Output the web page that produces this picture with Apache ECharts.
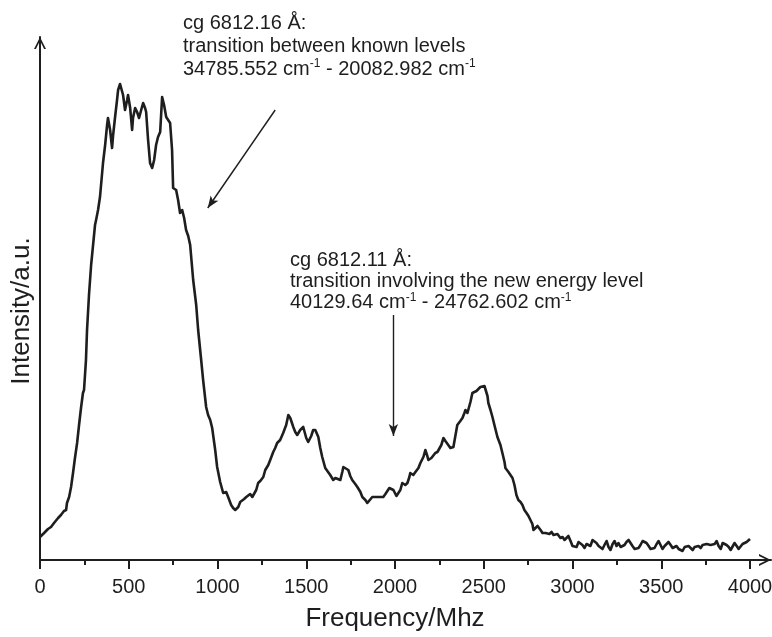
<!DOCTYPE html>
<html>
<head>
<meta charset="utf-8">
<title>Hyperfine spectrum</title>
<script src="https://cdn.jsdelivr.net/npm/echarts@6/dist/echarts.min.js"></script>
<style>
  html, body { margin: 0; padding: 0; background: #fff; }
  #chart { width: 772px; height: 637px; }
</style>
</head>
<body>
<div id="chart"></div>
<script>
// Measured spectrum: frequency offset (MHz) and intensity (arbitrary units)
const freqMHz = [
  0, 23, 45, 62, 79, 102, 118, 135, 147, 152, 164, 175, 186, 197, 209, 220, 231, 242, 248, 259,
  265, 276, 288, 299, 310, 316, 327, 338, 344, 355, 367, 378, 383, 395, 406, 412, 423, 434, 440, 451,
  457, 468, 479, 491, 496, 508, 519, 524, 536, 547, 558, 570, 581, 592, 598, 609, 620, 632, 643, 654,
  665, 677, 688, 699, 711, 722, 733, 744, 750, 767, 778, 789, 801, 812, 823, 835, 846, 863, 880, 891,
  908, 919, 936, 947, 959, 970, 987, 998, 1015, 1032, 1049, 1060, 1077, 1088, 1100, 1117, 1128, 1139, 1150, 1162,
  1173, 1184, 1196, 1207, 1218, 1229, 1241, 1258, 1269, 1286, 1297, 1314, 1325, 1336, 1353, 1370, 1387, 1399, 1410, 1415,
  1427, 1438, 1449, 1466, 1483, 1500, 1511, 1528, 1539, 1551, 1568, 1579, 1590, 1607, 1618, 1635, 1652, 1664, 1675, 1692,
  1703, 1709, 1720, 1737, 1748, 1759, 1776, 1788, 1805, 1816, 1833, 1844, 1855, 1872, 1889, 1900, 1917, 1934, 1946, 1957,
  1968, 1979, 1991, 1996, 2008, 2019, 2030, 2041, 2058, 2070, 2081, 2086, 2103, 2115, 2132, 2143, 2160, 2171, 2182, 2188,
  2205, 2216, 2227, 2239, 2244, 2261, 2273, 2284, 2295, 2312, 2329, 2340, 2351, 2368, 2380, 2391, 2397, 2408, 2413, 2425,
  2436, 2447, 2459, 2470, 2481, 2492, 2504, 2509, 2521, 2526, 2538, 2549, 2560, 2577, 2594, 2605, 2617, 2622, 2639, 2650,
  2662, 2673, 2684, 2695, 2707, 2718, 2729, 2741, 2752, 2763, 2774, 2780, 2791, 2803, 2808, 2820, 2831, 2836, 2848, 2859,
  2870, 2882, 2893, 2904, 2915, 2932, 2944, 2955, 2966, 2977, 2989, 3000, 3011, 3023, 3034, 3045, 3056, 3068, 3079, 3090,
  3101, 3113, 3124, 3135, 3147, 3158, 3169, 3180, 3192, 3203, 3214, 3226, 3237, 3248, 3259, 3271, 3282, 3293, 3304, 3316,
  3327, 3338, 3350, 3361, 3372, 3383, 3395, 3406, 3417, 3429, 3440, 3451, 3462, 3474, 3485, 3496, 3507, 3519, 3530, 3541,
  3553, 3564, 3575, 3586, 3598, 3609, 3620, 3632, 3643, 3654, 3665, 3677, 3688, 3699, 3710, 3722, 3733, 3744, 3756, 3767,
  3778, 3789, 3801, 3812, 3823, 3835, 3846, 3857, 3868, 3880, 3891, 3902, 3913, 3925, 3936, 3947, 3958, 3969, 3981, 3992,
  4000
];
const intensity = [
  23, 27, 31, 33, 37, 42, 45, 49, 50, 57, 63, 73, 87, 102, 117, 135, 152, 167, 170, 200,
  230, 265, 295, 315, 335, 340, 350, 363, 375, 397, 415, 435, 442, 430, 412, 425, 443, 460, 470, 476,
  477, 465, 450, 460, 465, 452, 430, 442, 452, 448, 442, 450, 457, 452, 448, 420, 397, 392, 400, 415,
  423, 428, 463, 455, 443, 440, 437, 410, 372, 370, 360, 347, 350, 342, 330, 324, 315, 280, 255, 230,
  200, 180, 153, 145, 140, 132, 110, 93, 78, 67, 68, 63, 55, 52, 50, 53, 58, 57, 61, 63,
  63, 66, 63, 64, 70, 77, 79, 83, 90, 95, 100, 108, 112, 117, 120, 127, 135, 145, 142, 140,
  133, 128, 125, 130, 133, 122, 118, 124, 130, 130, 123, 112, 103, 92, 90, 85, 80, 82, 83, 80,
  88, 93, 92, 90, 84, 80, 76, 73, 68, 63, 60, 57, 59, 63, 63, 64, 63, 63, 66, 68,
  72, 73, 70, 68, 64, 63, 70, 77, 75, 77, 83, 87, 85, 88, 92, 97, 103, 110, 104, 100,
  102, 103, 107, 108, 110, 115, 122, 119, 117, 112, 113, 124, 135, 139, 142, 147, 150, 147, 145, 158,
  167, 167, 169, 170, 173, 175, 174, 172, 164, 157, 150, 143, 135, 123, 115, 107, 98, 92, 88, 87,
  82, 75, 65, 60, 58, 55, 50, 47, 44, 42, 36, 30, 30, 34, 35, 30, 27, 25, 27, 28,
  26, 28, 25, 24, 26, 22, 23, 20, 22, 24, 19, 14, 16, 13, 18, 19, 15, 12, 16, 18,
  14, 20, 22, 17, 14, 16, 11, 15, 19, 13, 10, 16, 19, 14, 17, 13, 11, 15, 18, 20,
  17, 14, 11, 13, 12, 15, 19, 21, 17, 14, 11, 9, 12, 16, 19, 15, 11, 14, 16, 18,
  15, 12, 10, 14, 11, 12, 9, 13, 11, 14, 12, 10, 13, 11, 14, 12, 15, 13, 16, 14,
  15, 17, 16, 19, 14, 11, 17, 19, 15, 13, 10, 12, 17, 14, 11, 13, 16, 14, 18, 20,
  21
];

// Frequency axis range and tick spacing
const xMin = 0, xMax = 4000, xStep = 500;
// Intensity scale (no ticks shown)
const yMin = 0, yMax = 523;

// Annotation arrows: [from, to] in data coordinates
const arrowKnown = [[1325, 450], [945, 352]];
const arrowNew = [[1991, 245], [1991, 124]];

const ink = '#1e1e1e';
const fontFamily = '"Liberation Sans", Arial, Helvetica, sans-serif';
// Open chevron used as axis arrow heads
const chevron = 'path://M0,10 L5,0 L10,10 L8.4,10 L5,3.2 L1.6,10 Z';

const chart = echarts.init(document.getElementById('chart'), null, { renderer: 'canvas' });

const seriesData = freqMHz.map((f, i) => [f, intensity[i]]);

const supStyle = { fontSize: 12, lineHeight: 13, verticalAlign: 'top', fill: ink, fontFamily: fontFamily };

const option = {
  animation: false,
  backgroundColor: '#fff',
  textStyle: { fontFamily: fontFamily, color: ink },
  grid: [
    { left: 40, right: 22, top: 37, bottom: 77, containLabel: false, outerBoundsMode: 'none' },
    { left: 40, right: 1, top: 37, bottom: 77, containLabel: false, outerBoundsMode: 'none' }
  ],
  xAxis: [
    {
      type: 'value', gridIndex: 0,
      min: xMin, max: xMax, interval: xStep,
      name: 'Frequency/Mhz', nameLocation: 'middle', nameGap: 46,
      nameTextStyle: { fontSize: 26, color: ink, fontFamily: fontFamily },
      axisLine: { show: true, onZero: false, lineStyle: { color: ink, width: 2 } },
      axisTick: { show: true, inside: false, length: 9, lineStyle: { color: ink, width: 2 } },
      minorTick: { show: true, splitNumber: 2, length: 5, lineStyle: { color: ink, width: 2 } },
      axisLabel: {
        show: true, margin: 17, fontSize: 20, color: ink, fontFamily: fontFamily,
        formatter: (v) => String(v)
      },
      splitLine: { show: false }
    },
    {
      // extends the frequency axis line to the arrow head
      type: 'value', gridIndex: 1, min: 0, max: 1,
      axisLine: {
        show: true, onZero: false,
        symbol: ['none', chevron], symbolSize: [13, 12], symbolOffset: [0, -6],
        lineStyle: { color: ink, width: 2 }
      },
      axisTick: { show: false }, axisLabel: { show: false }, splitLine: { show: false }
    }
  ],
  yAxis: [
    {
      type: 'value', gridIndex: 0, min: yMin, max: yMax,
      axisLine: {
        show: true, onZero: false,
        symbol: ['none', chevron], symbolSize: [13, 12], symbolOffset: [0, -6],
        lineStyle: { color: ink, width: 2 }
      },
      axisTick: { show: false }, axisLabel: { show: false }, splitLine: { show: false }
    },
    {
      type: 'value', gridIndex: 1, min: 0, max: 1, show: false
    }
  ],
  series: [
    {
      type: 'line', xAxisIndex: 0, yAxisIndex: 0,
      data: seriesData,
      showSymbol: false, symbol: 'none', smooth: false,
      lineStyle: { color: ink, width: 2.6, join: 'round' },
      clip: false,
      markLine: {
        silent: true,
        symbol: ['none', 'arrow'],
        symbolSize: [7, 12],
        label: { show: false },
        lineStyle: { color: ink, width: 1.4, type: 'solid' },
        data: [
          [{ coord: arrowKnown[0] }, { coord: arrowKnown[1] }],
          [{ coord: arrowNew[0] }, { coord: arrowNew[1] }]
        ]
      }
    }
  ],
  graphic: [
    {
      // intensity axis title, rotated
      type: 'text', x: 22, y: 311, rotation: Math.PI / 2,
      style: {
        text: 'Intensity/a.u.', font: '26px ' + fontFamily, fill: ink,
        align: 'center', verticalAlign: 'middle'
      }
    },
    {
      type: 'text', left: 183, top: 12,
      style: {
        text: 'cg 6812.16 Å:\ntransition between known levels\n34785.552 cm{sup|-1} - 20082.982 cm{sup|-1}',
        font: '20px ' + fontFamily, fill: ink, lineHeight: 23,
        rich: { sup: supStyle }
      }
    },
    {
      type: 'text', left: 290, top: 250,
      style: {
        text: 'cg 6812.11 Å:\ntransition involving the new energy level\n40129.64 cm{sup|-1} - 24762.602 cm{sup|-1}',
        font: '20px ' + fontFamily, fill: ink, lineHeight: 21,
        rich: { sup: supStyle }
      }
    }
  ]
};

chart.setOption(option);
</script>
</body>
</html>
